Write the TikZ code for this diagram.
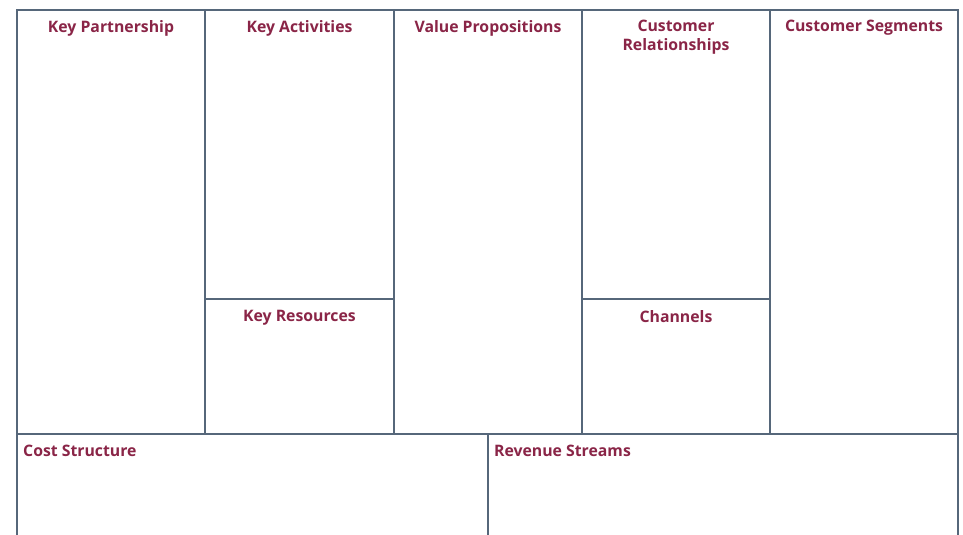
\documentclass[tikz,border=0pt]{standalone}
\usepackage{fontspec}
\setmainfont{Open Sans}
\definecolor{gridc}{HTML}{56677A}
\definecolor{headc}{HTML}{8A2547}
\begin{document}
\begin{tikzpicture}[x=1pt,y=-1pt,
  grid/.style={draw=gridc,line width=1.7pt},
  head/.style={text=headc,font=\fontsize{15.8}{19}\selectfont\bfseries,inner sep=0pt,align=center,anchor=north},
  headl/.style={head,anchor=north west,align=left}]
\useasboundingbox (0,0) rectangle (963,535);
\fill[white] (0,0) rectangle (963,535);
% grid
\draw[grid] (17,535) -- (17,10) -- (958,10) -- (958,535);
\draw[grid] (205,10) -- (205,434);
\draw[grid] (394,10) -- (394,434);
\draw[grid] (582,10) -- (582,434);
\draw[grid] (770,10) -- (770,434);
\draw[grid] (205,299) -- (394,299);
\draw[grid] (582,299) -- (770,299);
\draw[grid] (17,434) -- (958,434);
\draw[grid] (488,434) -- (488,535);
% headings
\node[head] (kp) at (111,20) {Key Partnership};
\node[head] (ka) at (299.5,20) {Key Activities};
\node[head] (vp) at (488,20) {Value Propositions};
\node[head] (cr) at (676,20) {Customer\\Relationships};
\node[head] (cs) at (864,20) {Customer Segments};
\node[head] (kr) at (299.5,310) {Key Resources};
\node[head] (ch) at (676,310) {Channels};
\node[headl] (cost) at (23,445) {Cost Structure};
\node[headl] (rev) at (494,445) {Revenue Streams};
\end{tikzpicture}
\end{document}
